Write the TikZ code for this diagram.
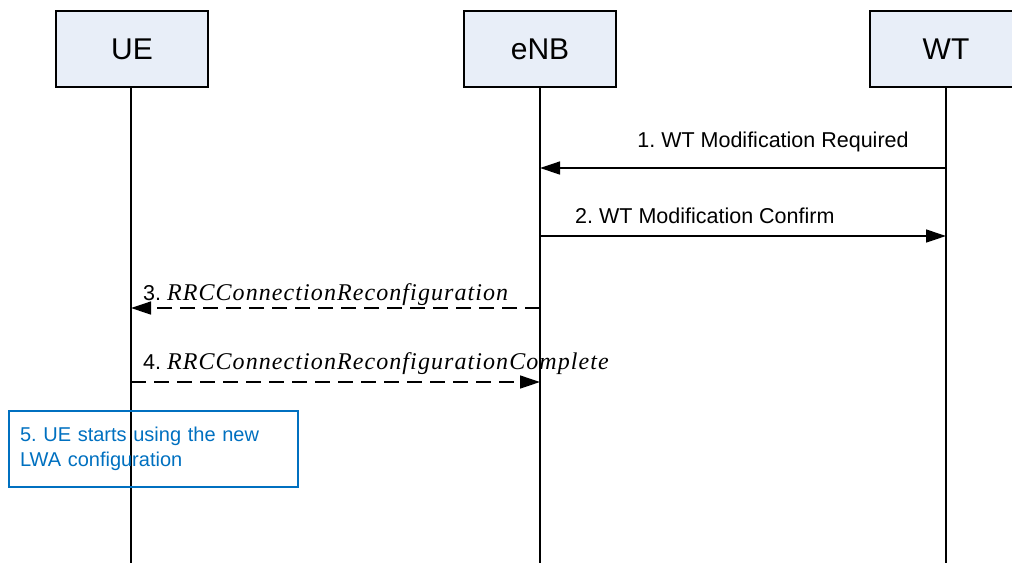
\documentclass[tikz,border=0pt]{standalone}
\usepackage{fontspec}
\setmainfont{Liberation Sans}
\newfontfamily\msgserif[LetterSpace=4.5]{Liberation Serif}
\usetikzlibrary{arrows.meta, positioning}
\definecolor{cbox}{HTML}{E8EEF8}
\definecolor{cnote}{HTML}{0070C0}
\tikzset{
  entity/.style={draw, fill=cbox, line width=1.3pt, minimum width=152pt, minimum height=76pt, inner sep=0pt, font=\fontsize{30}{36}\selectfont},
  lifeline/.style={line width=1.3pt},
  msg/.style={-{Triangle[length=20pt, width=13pt]}, line width=1.3pt},
  reply/.style={msg, dash pattern=on 15pt off 8pt},
  lbl/.style={font=\fontsize{21.5}{26}\selectfont, inner sep=0pt},
  note/.style={draw=cnote, text=cnote, line width=1.2pt, minimum width=289pt, minimum height=76pt, text width=267pt, align=left, inner xsep=11pt, font=\fontsize{20}{25}\selectfont},
}
\newcommand{\rrcmsg}[1]{{\msgserif\itshape\fontsize{24}{28}\selectfont #1}}
\frenchspacing

\begin{document}
\begin{tikzpicture}[x=1pt, y=-1pt]
  \useasboundingbox (0,0) rectangle (1012,563);
  % lifelines
  \coordinate (ue-end) at (131,563);
  \coordinate (enb-end) at (540,563);
  \coordinate (wt-end) at (946,563);
  \node[entity] (ue) at (132,49) {UE};
  \node[entity] (enb) at (540,49) {eNB};
  \node[entity] (wt) at (946,49) {WT};
  \draw[lifeline] (ue-end |- ue.south) -- (ue-end);
  \draw[lifeline] (enb-end |- enb.south) -- (enb-end);
  \draw[lifeline] (wt-end |- wt.south) -- (wt-end);
  % messages
  \draw[msg] (wt-end |- 0,168) -- (enb-end |- 0,168);
  \node[lbl, anchor=base] (l1) at (773,147) {1. WT Modification Required};
  \draw[msg] (enb-end |- 0,236) -- (wt-end |- 0,236);
  \node[lbl, anchor=base west] (l2) at (575,223) {2. WT Modification Confirm};
  \draw[reply] (enb-end |- 0,308) -- (ue-end |- 0,308);
  \node[lbl, anchor=base west] (l3) at (143,300) {3. \rrcmsg{RRCConnectionReconfiguration}};
  \draw[reply] (ue-end |- 0,382) -- (enb-end |- 0,382);
  \node[lbl, anchor=base west] (l4) at (143,369) {4. \rrcmsg{RRCConnectionReconfigurationComplete}};
  % step 5
  \node[note] (ue-apply) at (153.5,449) {5. UE starts using the new\\LWA configuration};
\end{tikzpicture}
\end{document}
